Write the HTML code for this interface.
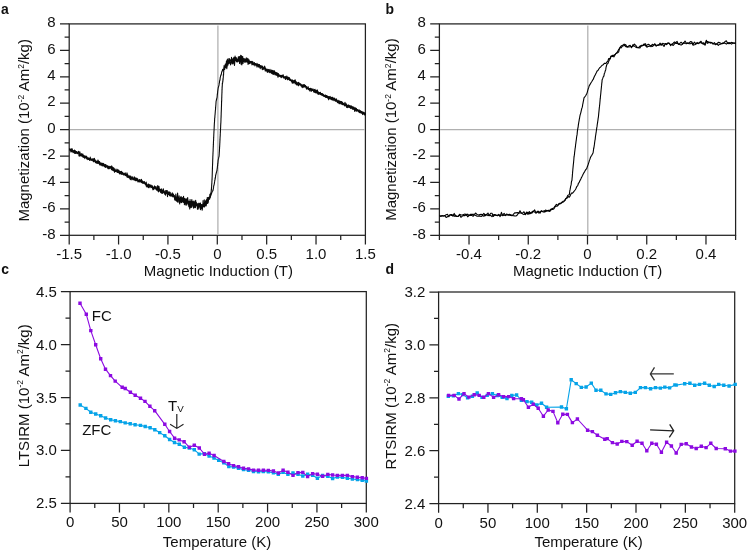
<!DOCTYPE html>
<html><head><meta charset="utf-8"><style>
html,body{margin:0;padding:0;background:#fff;}
svg{display:block;will-change:transform;}
text{font-family:"Liberation Sans", sans-serif;font-size:15px;fill:#111;}
</style></head><body>
<svg width="750" height="553" viewBox="0 0 750 553">
<rect width="750" height="553" fill="#fff"/>
<rect x="69.2" y="23.9" width="296.20" height="211.40" fill="none" stroke="#222" stroke-width="1.25"/>
<path d="M69.20 235.3v9.2M118.57 235.3v9.2M167.93 235.3v9.2M217.30 235.3v9.2M266.67 235.3v9.2M316.03 235.3v9.2M365.40 235.3v9.2M93.88 235.3v4.6M143.25 235.3v4.6M192.62 235.3v4.6M241.98 235.3v4.6M291.35 235.3v4.6M340.72 235.3v4.6M69.2 235.30h-9.2M69.2 208.88h-9.2M69.2 182.45h-9.2M69.2 156.03h-9.2M69.2 129.60h-9.2M69.2 103.18h-9.2M69.2 76.75h-9.2M69.2 50.33h-9.2M69.2 23.90h-9.2M69.2 222.09h-4.6M69.2 195.66h-4.6M69.2 169.24h-4.6M69.2 142.81h-4.6M69.2 116.39h-4.6M69.2 89.96h-4.6M69.2 63.54h-4.6M69.2 37.11h-4.6" stroke="#222" stroke-width="1.25" fill="none"/>
<text x="69.20" y="259.20" text-anchor="middle">-1.5</text>
<text x="118.57" y="259.20" text-anchor="middle">-1.0</text>
<text x="167.93" y="259.20" text-anchor="middle">-0.5</text>
<text x="217.30" y="259.20" text-anchor="middle">0</text>
<text x="266.67" y="259.20" text-anchor="middle">0.5</text>
<text x="316.03" y="259.20" text-anchor="middle">1.0</text>
<text x="365.40" y="259.20" text-anchor="middle">1.5</text>
<text x="55.60" y="238.50" text-anchor="end">-8</text>
<text x="55.60" y="212.07" text-anchor="end">-6</text>
<text x="55.60" y="185.65" text-anchor="end">-4</text>
<text x="55.60" y="159.22" text-anchor="end">-2</text>
<text x="55.60" y="132.80" text-anchor="end">0</text>
<text x="55.60" y="106.38" text-anchor="end">2</text>
<text x="55.60" y="79.95" text-anchor="end">4</text>
<text x="55.60" y="53.53" text-anchor="end">6</text>
<text x="55.60" y="27.10" text-anchor="end">8</text>
<rect x="439.4" y="23.9" width="296.20" height="211.40" fill="none" stroke="#222" stroke-width="1.25"/>
<path d="M469.02 235.3v9.2M528.26 235.3v9.2M587.50 235.3v9.2M646.74 235.3v9.2M705.98 235.3v9.2M439.40 235.3v4.6M498.64 235.3v4.6M557.88 235.3v4.6M617.12 235.3v4.6M676.36 235.3v4.6M735.60 235.3v4.6M439.4 235.30h-9.2M439.4 208.88h-9.2M439.4 182.45h-9.2M439.4 156.03h-9.2M439.4 129.60h-9.2M439.4 103.18h-9.2M439.4 76.75h-9.2M439.4 50.33h-9.2M439.4 23.90h-9.2M439.4 222.09h-4.6M439.4 195.66h-4.6M439.4 169.24h-4.6M439.4 142.81h-4.6M439.4 116.39h-4.6M439.4 89.96h-4.6M439.4 63.54h-4.6M439.4 37.11h-4.6" stroke="#222" stroke-width="1.25" fill="none"/>
<text x="469.02" y="259.20" text-anchor="middle">-0.4</text>
<text x="528.26" y="259.20" text-anchor="middle">-0.2</text>
<text x="587.50" y="259.20" text-anchor="middle">0</text>
<text x="646.74" y="259.20" text-anchor="middle">0.2</text>
<text x="705.98" y="259.20" text-anchor="middle">0.4</text>
<text x="425.80" y="238.50" text-anchor="end">-8</text>
<text x="425.80" y="212.07" text-anchor="end">-6</text>
<text x="425.80" y="185.65" text-anchor="end">-4</text>
<text x="425.80" y="159.22" text-anchor="end">-2</text>
<text x="425.80" y="132.80" text-anchor="end">0</text>
<text x="425.80" y="106.38" text-anchor="end">2</text>
<text x="425.80" y="79.95" text-anchor="end">4</text>
<text x="425.80" y="53.53" text-anchor="end">6</text>
<text x="425.80" y="27.10" text-anchor="end">8</text>
<rect x="70.1" y="291.6" width="296.20" height="211.80" fill="none" stroke="#222" stroke-width="1.25"/>
<path d="M70.10 503.4v9.2M119.47 503.4v9.2M168.83 503.4v9.2M218.20 503.4v9.2M267.57 503.4v9.2M316.93 503.4v9.2M366.30 503.4v9.2M94.78 503.4v4.6M144.15 503.4v4.6M193.52 503.4v4.6M242.88 503.4v4.6M292.25 503.4v4.6M341.62 503.4v4.6M70.1 503.40h-9.2M70.1 450.45h-9.2M70.1 397.50h-9.2M70.1 344.55h-9.2M70.1 291.60h-9.2M70.1 476.92h-4.6M70.1 423.98h-4.6M70.1 371.02h-4.6M70.1 318.08h-4.6" stroke="#222" stroke-width="1.25" fill="none"/>
<text x="70.10" y="527.30" text-anchor="middle">0</text>
<text x="119.47" y="527.30" text-anchor="middle">50</text>
<text x="168.83" y="527.30" text-anchor="middle">100</text>
<text x="218.20" y="527.30" text-anchor="middle">150</text>
<text x="267.57" y="527.30" text-anchor="middle">200</text>
<text x="316.93" y="527.30" text-anchor="middle">250</text>
<text x="366.30" y="527.30" text-anchor="middle">300</text>
<text x="56.80" y="508.40" text-anchor="end">2.5</text>
<text x="56.80" y="455.45" text-anchor="end">3.0</text>
<text x="56.80" y="402.50" text-anchor="end">3.5</text>
<text x="56.80" y="349.55" text-anchor="end">4.0</text>
<text x="56.80" y="296.60" text-anchor="end">4.5</text>
<rect x="438.6" y="292.0" width="296.10" height="211.60" fill="none" stroke="#222" stroke-width="1.25"/>
<path d="M438.60 503.6v9.2M487.95 503.6v9.2M537.30 503.6v9.2M586.65 503.6v9.2M636.00 503.6v9.2M685.35 503.6v9.2M734.70 503.6v9.2M463.28 503.6v4.6M512.62 503.6v4.6M561.98 503.6v4.6M611.33 503.6v4.6M660.68 503.6v4.6M710.03 503.6v4.6M438.6 503.60h-9.2M438.6 450.70h-9.2M438.6 397.80h-9.2M438.6 344.90h-9.2M438.6 292.00h-9.2M438.6 477.15h-4.6M438.6 424.25h-4.6M438.6 371.35h-4.6M438.6 318.45h-4.6" stroke="#222" stroke-width="1.25" fill="none"/>
<text x="438.60" y="527.50" text-anchor="middle">0</text>
<text x="487.95" y="527.50" text-anchor="middle">50</text>
<text x="537.30" y="527.50" text-anchor="middle">100</text>
<text x="586.65" y="527.50" text-anchor="middle">150</text>
<text x="636.00" y="527.50" text-anchor="middle">200</text>
<text x="685.35" y="527.50" text-anchor="middle">250</text>
<text x="734.70" y="527.50" text-anchor="middle">300</text>
<text x="425.30" y="508.60" text-anchor="end">2.4</text>
<text x="425.30" y="455.70" text-anchor="end">2.6</text>
<text x="425.30" y="402.80" text-anchor="end">2.8</text>
<text x="425.30" y="349.90" text-anchor="end">3.0</text>
<text x="425.30" y="297.00" text-anchor="end">3.2</text>
<path d="M69.9 129.60H364.7M217.90 25.5V234.60000000000002" stroke="#b0b0b0" stroke-width="1.25"/>
<path d="M440.09999999999997 129.60H734.9M587.80 25.5V234.60000000000002" stroke="#b0b0b0" stroke-width="1.25"/>
<text x="218.3" y="275.9" text-anchor="middle">Magnetic Induction (T)</text>
<text x="587.6" y="275.9" text-anchor="middle">Magnetic Induction (T)</text>
<text x="217.0" y="546.8" text-anchor="middle">Temperature (K)</text>
<text x="588.6" y="546.8" text-anchor="middle">Temperature (K)</text>
<text transform="translate(29.0,130.3) rotate(-90)" text-anchor="middle">Magnetization (10<tspan font-size="8.6" dy="-5.5">-2</tspan><tspan dy="5.5"> Am</tspan><tspan font-size="8.6" dy="-5.5">2</tspan><tspan dy="5.5">/kg)</tspan></text>
<text transform="translate(396.0,129.6) rotate(-90)" text-anchor="middle">Magnetization (10<tspan font-size="8.6" dy="-5.5">-2</tspan><tspan dy="5.5"> Am</tspan><tspan font-size="8.6" dy="-5.5">2</tspan><tspan dy="5.5">/kg)</tspan></text>
<text transform="translate(28.6,395.8) rotate(-90)" text-anchor="middle">LTSIRM (10<tspan font-size="8.6" dy="-5.5">-2</tspan><tspan dy="5.5"> Am</tspan><tspan font-size="8.6" dy="-5.5">2</tspan><tspan dy="5.5">/kg)</tspan></text>
<text transform="translate(395.9,396.2) rotate(-90)" text-anchor="middle">RTSIRM (10<tspan font-size="8.6" dy="-5.5">-2</tspan><tspan dy="5.5"> Am</tspan><tspan font-size="8.6" dy="-5.5">2</tspan><tspan dy="5.5">/kg)</tspan></text>
<text transform="translate(1.0,14) scale(0.93,1)" font-weight="bold" font-size="17.5">a</text>
<text transform="translate(385.4,13.7) scale(0.93,1)" font-weight="bold" font-size="17.5">b</text>
<text transform="translate(1.2,274.2) scale(0.93,1)" font-weight="bold" font-size="17.5">c</text>
<text transform="translate(385.4,274) scale(0.93,1)" font-weight="bold" font-size="17.5">d</text>
<defs>
<clipPath id="clipa"><rect x="69.2" y="23.9" width="297.2" height="211.4"/></clipPath>
<clipPath id="clipb"><rect x="439.4" y="23.9" width="297.20000000000005" height="211.4"/></clipPath>
</defs>
<path clip-path="url(#clipa)" d="M69.20 149.88 L69.50 149.25 L69.79 149.38 L70.09 150.23 L70.38 150.32 L70.68 150.42 L70.98 150.95 L71.27 150.83 L71.57 148.75 L71.87 149.97 L72.16 150.55 L72.46 150.23 L72.75 151.35 L73.05 152.61 L73.35 152.35 L73.64 150.68 L73.94 151.36 L74.24 151.90 L74.53 150.90 L74.83 152.95 L75.12 152.14 L75.42 150.78 L75.72 153.46 L76.01 151.92 L76.31 151.64 L76.61 152.55 L76.90 153.35 L77.20 153.71 L77.49 153.50 L77.79 152.15 L78.09 152.97 L78.38 152.45 L78.68 153.14 L78.97 152.07 L79.27 154.08 L79.57 154.70 L79.86 151.82 L80.16 153.62 L80.46 155.19 L80.75 154.73 L81.05 155.15 L81.34 155.63 L81.64 155.73 L81.94 156.32 L82.23 155.88 L82.53 154.73 L82.83 153.92 L83.12 156.59 L83.42 157.12 L83.71 155.75 L84.01 156.65 L84.31 157.25 L84.60 155.91 L84.90 156.57 L85.19 157.43 L85.49 156.47 L85.79 156.72 L86.08 156.70 L86.38 156.34 L86.68 156.38 L86.97 158.11 L87.27 158.55 L87.56 158.05 L87.86 158.56 L88.16 158.37 L88.45 158.29 L88.75 158.99 L89.05 159.09 L89.34 158.48 L89.64 159.74 L89.93 159.31 L90.23 156.95 L90.53 159.44 L90.82 159.59 L91.12 160.02 L91.42 159.10 L91.71 160.27 L92.01 159.88 L92.30 159.98 L92.60 159.40 L92.90 159.05 L93.19 161.09 L93.49 161.80 L93.78 160.07 L94.08 161.06 L94.38 158.35 L94.67 159.72 L94.97 159.87 L95.27 162.42 L95.56 161.60 L95.86 161.76 L96.15 163.11 L96.45 161.68 L96.75 161.31 L97.04 162.26 L97.34 163.21 L97.64 163.23 L97.93 161.20 L98.23 161.86 L98.52 161.39 L98.82 163.65 L99.12 162.39 L99.41 162.29 L99.71 164.93 L100.00 164.89 L100.30 163.53 L100.60 164.84 L100.89 163.15 L101.19 164.24 L101.49 163.24 L101.78 165.73 L102.08 164.47 L102.37 165.55 L102.67 164.85 L102.97 164.75 L103.26 164.47 L103.56 165.48 L103.86 164.38 L104.15 165.83 L104.45 166.43 L104.74 166.30 L105.04 167.12 L105.34 166.51 L105.63 164.66 L105.93 166.55 L106.22 165.63 L106.52 165.79 L106.82 166.16 L107.11 166.38 L107.41 167.46 L107.71 165.54 L108.00 167.73 L108.30 166.19 L108.59 167.74 L108.89 167.90 L109.19 166.28 L109.48 166.74 L109.78 167.08 L110.08 166.94 L110.37 167.53 L110.67 168.01 L110.96 167.91 L111.26 166.02 L111.56 167.82 L111.85 167.23 L112.15 167.87 L112.45 169.24 L112.74 169.12 L113.04 169.73 L113.33 167.44 L113.63 170.73 L113.93 169.20 L114.22 168.38 L114.52 172.29 L114.81 170.72 L115.11 170.31 L115.41 171.38 L115.70 170.46 L116.00 171.43 L116.30 170.60 L116.59 170.45 L116.89 171.10 L117.18 170.27 L117.48 172.48 L117.78 169.27 L118.07 172.20 L118.37 172.42 L118.67 172.56 L118.96 172.88 L119.26 171.46 L119.55 173.99 L119.85 171.69 L120.15 172.61 L120.44 171.64 L120.74 173.82 L121.03 171.63 L121.33 174.04 L121.63 174.18 L121.92 173.65 L122.22 172.60 L122.52 173.87 L122.81 173.35 L123.11 174.00 L123.40 174.05 L123.70 174.67 L124.00 173.35 L124.29 174.15 L124.59 174.43 L124.89 174.59 L125.18 173.42 L125.48 175.70 L125.77 174.75 L126.07 174.23 L126.37 175.07 L126.66 175.73 L126.96 172.73 L127.26 176.60 L127.55 174.08 L127.85 175.90 L128.14 175.83 L128.44 176.65 L128.74 176.69 L129.03 177.36 L129.33 175.72 L129.62 177.45 L129.92 177.83 L130.22 177.87 L130.51 179.44 L130.81 177.19 L131.11 179.84 L131.40 178.35 L131.70 177.78 L131.99 177.91 L132.29 178.93 L132.59 178.14 L132.88 178.81 L133.18 178.49 L133.48 179.13 L133.77 177.93 L134.07 177.30 L134.36 176.88 L134.66 179.29 L134.96 178.94 L135.25 177.80 L135.55 179.91 L135.84 178.86 L136.14 178.08 L136.44 180.79 L136.73 179.77 L137.03 178.40 L137.33 178.96 L137.62 178.73 L137.92 180.42 L138.21 181.06 L138.51 181.80 L138.81 180.23 L139.10 179.72 L139.40 180.87 L139.70 179.60 L139.99 181.06 L140.29 180.93 L140.58 180.66 L140.88 181.94 L141.18 181.11 L141.47 179.32 L141.77 181.93 L142.07 182.07 L142.36 180.79 L142.66 181.93 L142.95 183.03 L143.25 181.79 L143.55 182.68 L143.84 183.26 L144.14 181.74 L144.43 182.43 L144.73 183.05 L145.03 183.37 L145.32 183.11 L145.62 183.63 L145.92 184.30 L146.21 182.10 L146.51 184.65 L146.80 186.86 L147.10 185.97 L147.40 185.84 L147.69 184.90 L147.99 184.14 L148.29 184.42 L148.58 187.64 L148.88 185.60 L149.17 185.84 L149.47 186.04 L149.77 186.67 L150.06 187.73 L150.36 186.29 L150.66 185.95 L150.95 185.92 L151.25 186.31 L151.54 187.52 L151.84 187.03 L152.14 187.87 L152.43 187.43 L152.73 188.59 L153.02 189.82 L153.32 188.34 L153.62 187.47 L153.91 189.32 L154.21 186.43 L154.51 185.91 L154.80 187.47 L155.10 187.75 L155.39 187.01 L155.69 186.75 L155.99 188.80 L156.28 188.40 L156.58 188.84 L156.88 190.50 L157.17 188.87 L157.47 188.27 L157.76 188.68 L158.06 189.87 L158.36 191.93 L158.65 189.56 L158.95 187.92 L159.24 190.31 L159.54 190.72 L159.84 190.74 L160.13 191.35 L160.43 189.23 L160.73 189.21 L161.02 191.20 L161.32 191.29 L161.61 191.19 L161.91 190.92 L162.21 190.95 L162.50 190.58 L162.80 192.29 L163.10 192.19 L163.39 191.16 L163.69 191.81 L163.98 192.75 L164.28 191.72 L164.58 192.64 L164.87 194.29 L165.17 190.52 L165.47 192.80 L165.76 193.60 L166.06 192.72 L166.35 192.62 L166.65 191.55 L166.95 193.67 L167.24 194.22 L167.54 196.72 L167.83 192.96 L168.13 194.76 L168.43 192.47 L168.72 194.51 L169.02 193.84 L169.32 194.78 L169.61 194.21 L169.91 195.83 L170.20 194.34 L170.50 194.09 L170.80 196.21 L171.09 195.06 L171.39 195.90 L171.69 195.50 L171.98 195.99 L172.28 192.81 L172.57 195.99 L172.87 196.91 L173.17 195.02 L173.46 193.96 L173.76 196.10 L174.05 196.21 L174.35 195.73 L174.65 199.10 L174.94 200.10 L175.24 196.87 L175.54 198.48 L175.83 193.98 L176.13 198.39 L176.42 201.32 L176.72 198.05 L177.02 198.52 L177.31 196.53 L177.61 193.15 L177.91 198.05 L178.20 202.24 L178.50 198.52 L178.79 197.54 L179.09 199.91 L179.39 199.09 L179.68 200.60 L179.98 199.04 L180.27 199.27 L180.57 201.96 L180.87 197.89 L181.16 200.60 L181.46 202.69 L181.76 201.60 L182.05 199.81 L182.35 201.74 L182.64 199.47 L182.94 200.45 L183.24 199.86 L183.53 196.37 L183.83 202.14 L184.13 200.47 L184.42 204.61 L184.72 202.86 L185.01 201.95 L185.31 200.72 L185.61 202.15 L185.90 204.83 L186.20 201.60 L186.50 203.95 L186.79 203.68 L187.09 202.19 L187.38 199.57 L187.68 199.83 L187.98 201.85 L188.27 204.94 L188.57 202.21 L188.86 206.81 L189.16 204.13 L189.46 204.28 L189.75 208.87 L190.05 199.56 L190.35 204.87 L190.64 205.67 L190.94 201.73 L191.23 206.38 L191.53 201.52 L191.83 199.57 L192.12 202.87 L192.42 202.48 L192.72 202.98 L193.01 202.47 L193.31 205.67 L193.60 208.15 L193.90 203.32 L194.20 207.77 L194.49 203.53 L194.79 200.97 L195.09 204.11 L195.38 204.43 L195.68 200.25 L195.97 205.04 L196.27 205.73 L196.57 204.69 L196.86 204.51 L197.16 203.81 L197.45 209.17 L197.75 205.23 L198.05 203.57 L198.34 207.32 L198.64 206.57 L198.94 208.32 L199.23 204.21 L199.53 205.77 L199.82 204.36 L200.12 206.84 L200.42 203.13 L200.71 206.17 L201.01 207.17 L201.31 204.85 L201.60 208.55 L201.90 206.58 L202.19 210.28 L202.49 207.88 L202.79 206.89 L203.08 200.60 L203.38 206.54 L203.67 204.07 L203.97 205.99 L204.27 206.95 L204.56 207.00 L204.86 204.85 L205.16 205.07 L205.45 200.92 L205.75 205.46 L206.04 205.06 L206.34 204.36 L206.64 201.70 L206.93 203.43 L207.23 197.56 L207.53 202.32 L207.82 199.88 L208.12 200.83 L208.41 199.68 L208.71 198.82 L209.01 198.64 L209.30 197.88 L209.60 199.18 L209.89 196.61 L210.19 197.62 L210.49 195.70 L210.78 195.69 L211.08 192.83 L211.38 194.23 L211.67 193.13 L211.97 192.39 L212.26 191.46 L212.56 190.86 L212.86 190.84 L213.15 189.76 L213.30 188.78 L213.45 188.04 L213.60 187.16 L213.75 185.67 L213.89 185.65 L214.04 184.83 L214.19 184.36 L214.34 183.56 L214.49 182.54 L214.63 181.64 L214.78 180.37 L214.93 180.17 L215.03 179.54 L215.13 178.93 L215.23 177.64 L215.33 177.29 L215.42 178.13 L215.52 176.64 L215.62 175.94 L215.72 174.79 L215.82 175.01 L215.97 174.13 L216.12 173.58 L216.26 172.99 L216.41 172.46 L216.56 172.10 L216.71 171.27 L216.86 170.77 L217.00 170.73 L217.10 168.84 L217.20 169.04 L217.30 168.09 L217.37 167.02 L217.45 166.38 L217.52 165.67 L217.60 165.95 L217.67 164.55 L217.74 163.92 L217.82 163.52 L217.89 163.24 L217.97 162.27 L218.04 161.49 L218.11 160.76 L218.19 159.62 L218.34 159.27 L218.48 158.79 L218.63 158.20 L218.78 157.26 L218.93 156.71 L219.08 156.33 L219.12 155.42 L219.16 154.86 L219.20 154.41 L219.25 154.00 L219.29 152.72 L219.33 151.85 L219.37 152.15 L219.41 151.10 L219.44 150.62 L219.47 149.29 L219.51 149.24 L219.54 148.54 L219.57 147.70 L219.60 146.84 L219.64 146.37 L219.67 146.78 L219.70 145.50 L219.74 144.85 L219.77 144.36 L219.80 143.55 L219.83 142.80 L219.87 142.74 L219.90 141.48 L219.93 140.63 L219.97 140.51 L220.00 139.90 L220.03 138.37 L220.06 138.47 L220.10 137.30 L220.13 136.63 L220.16 136.63 L220.20 135.89 L220.23 135.68 L220.26 133.60 L220.29 133.39 L220.33 132.87 L220.36 131.88 L220.39 132.39 L220.43 131.09 L220.46 130.46 L220.49 130.20 L220.53 128.12 L220.56 128.16 L220.59 127.68 L220.62 128.35 L220.66 126.08 L220.69 124.75 L220.72 125.32 L220.76 123.59 L220.79 124.09 L220.82 122.96 L220.85 123.23 L220.88 122.59 L220.90 121.55 L220.93 121.67 L220.95 120.52 L220.98 119.70 L221.00 118.32 L221.03 117.54 L221.05 118.07 L221.08 117.80 L221.10 115.50 L221.13 116.42 L221.15 114.82 L221.17 115.08 L221.19 114.31 L221.21 112.83 L221.24 112.15 L221.26 111.88 L221.28 111.81 L221.30 110.61 L221.32 110.95 L221.34 109.86 L221.36 110.11 L221.38 108.89 L221.40 107.79 L221.43 106.69 L221.45 106.96 L221.47 106.50 L221.49 106.20 L221.51 104.62 L221.53 103.93 L221.55 103.20 L221.57 103.01 L221.59 100.60 L221.62 101.89 L221.64 101.16 L221.66 101.24 L221.68 100.85 L221.70 100.81 L221.72 99.05 L221.74 97.22 L221.76 98.07 L221.79 97.56 L221.81 95.16 L221.83 95.16 L221.85 95.34 L221.87 94.17 L221.89 93.67 L221.91 93.70 L221.93 92.16 L221.95 92.89 L221.98 92.07 L222.00 90.31 L222.02 88.93 L222.04 89.84 L222.08 89.95 L222.11 87.08 L222.15 88.21 L222.19 85.96 L222.22 86.94 L222.26 85.40 L222.30 85.73 L222.34 83.04 L222.41 84.22 L222.48 83.93 L222.56 82.50 L222.63 82.39 L222.71 81.28 L222.78 82.33 L222.85 80.99 L222.93 79.87 L223.00 78.43 L223.08 79.91 L223.15 78.51 L223.22 77.60 L223.30 77.53 L223.37 74.71 L223.45 74.17 L223.52 75.47 L223.58 74.55 L223.64 72.50 L223.70 71.50 L223.76 71.98 L223.82 68.74 L223.96 68.52 L224.11 68.23 L224.41 67.52 L224.70 69.35 L225.00 67.67 L225.30 63.93 L225.59 65.04 L225.89 66.34 L226.19 63.82 L226.48 60.83 L226.78 66.90 L227.07 61.90 L227.37 62.98 L227.67 63.08 L227.96 65.24 L228.26 61.13 L228.56 63.78 L228.85 60.69 L229.15 60.81 L229.44 58.82 L229.74 63.24 L230.04 63.67 L230.33 62.37 L230.63 64.94 L230.93 60.98 L231.22 62.40 L231.52 60.57 L231.81 61.56 L232.11 61.18 L232.41 63.42 L232.70 59.17 L233.00 64.03 L233.29 60.90 L233.59 62.95 L233.89 57.36 L234.18 60.33 L234.48 65.40 L234.78 62.02 L235.07 56.05 L235.37 59.77 L235.66 58.91 L235.96 57.58 L236.26 58.04 L236.55 60.40 L236.85 59.66 L237.15 59.50 L237.44 60.92 L237.74 61.50 L238.03 60.09 L238.33 56.90 L238.63 57.39 L238.92 61.20 L239.22 58.02 L239.52 63.55 L239.81 60.00 L240.11 61.25 L240.40 59.27 L240.70 61.36 L241.00 64.29 L241.29 61.48 L241.59 58.71 L241.88 64.84 L242.18 58.31 L242.48 56.52 L242.77 56.70 L243.07 63.53 L243.37 59.62 L243.66 61.40 L243.96 59.36 L244.25 61.09 L244.55 60.17 L244.85 60.39 L245.14 60.20 L245.44 59.02 L245.74 60.65 L246.03 60.84 L246.33 57.74 L246.62 61.61 L246.92 60.58 L247.22 59.13 L247.51 61.49 L247.81 58.21 L248.10 64.43 L248.40 61.04 L248.70 61.21 L248.99 59.89 L249.29 63.63 L249.59 62.71 L249.88 61.41 L250.18 63.12 L250.47 62.69 L250.77 61.56 L251.07 61.67 L251.36 62.65 L251.66 62.41 L251.96 61.22 L252.25 63.53 L252.55 64.17 L252.84 61.83 L253.14 63.82 L253.44 62.96 L253.73 64.20 L254.03 64.19 L254.32 63.83 L254.62 63.07 L254.92 63.99 L255.21 63.80 L255.51 63.58 L255.81 64.26 L256.10 64.03 L256.40 64.63 L256.69 65.42 L256.99 63.39 L257.29 64.72 L257.58 64.23 L257.88 65.44 L258.18 66.69 L258.47 66.76 L258.77 64.24 L259.06 66.56 L259.36 66.47 L259.66 65.45 L259.95 66.29 L260.25 67.06 L260.55 65.70 L260.84 66.99 L261.14 67.40 L261.43 66.76 L261.73 67.52 L262.03 67.72 L262.32 69.61 L262.62 69.21 L262.91 68.44 L263.21 67.70 L263.51 67.85 L263.80 69.17 L264.10 66.97 L264.40 68.40 L264.69 67.72 L264.99 69.12 L265.28 71.08 L265.58 68.76 L265.88 69.31 L266.17 68.99 L266.47 70.73 L266.77 71.17 L267.06 69.72 L267.36 70.60 L267.65 70.23 L267.95 71.27 L268.25 71.02 L268.54 69.43 L268.84 71.18 L269.13 69.96 L269.43 70.25 L269.73 71.90 L270.02 69.42 L270.32 72.16 L270.62 71.19 L270.91 71.00 L271.21 72.20 L271.50 72.37 L271.80 70.25 L272.10 70.93 L272.39 71.89 L272.69 72.47 L272.99 70.45 L273.28 72.98 L273.58 71.06 L273.87 72.45 L274.17 71.69 L274.47 71.19 L274.76 73.43 L275.06 72.54 L275.36 74.72 L275.65 73.23 L275.95 72.67 L276.24 73.72 L276.54 75.25 L276.84 72.97 L277.13 75.11 L277.43 73.74 L277.72 73.38 L278.02 73.84 L278.32 74.73 L278.61 75.28 L278.91 76.23 L279.21 75.88 L279.50 75.67 L279.80 75.45 L280.09 75.47 L280.39 76.54 L280.69 75.37 L280.98 75.44 L281.28 76.00 L281.58 77.06 L281.87 75.88 L282.17 76.37 L282.46 75.85 L282.76 76.55 L283.06 75.15 L283.35 77.58 L283.65 77.98 L283.94 77.69 L284.24 76.78 L284.54 77.86 L284.83 77.32 L285.13 77.04 L285.43 79.49 L285.72 79.21 L286.02 76.26 L286.31 77.32 L286.61 78.39 L286.91 78.12 L287.20 79.08 L287.50 79.78 L287.80 78.13 L288.09 79.13 L288.39 78.12 L288.68 77.31 L288.98 79.76 L289.28 77.58 L289.57 79.12 L289.87 78.95 L290.17 80.49 L290.46 80.60 L290.76 80.27 L291.05 80.86 L291.35 80.37 L291.65 80.05 L291.94 81.48 L292.24 83.24 L292.53 80.02 L292.83 82.35 L293.13 83.06 L293.42 80.96 L293.72 82.22 L294.02 81.20 L294.31 81.79 L294.61 82.56 L294.90 81.21 L295.20 84.01 L295.50 83.58 L295.79 83.40 L296.09 82.27 L296.39 84.03 L296.68 84.88 L296.98 85.09 L297.27 84.42 L297.57 83.23 L297.87 83.86 L298.16 84.45 L298.46 85.81 L298.75 84.09 L299.05 84.72 L299.35 84.23 L299.64 83.75 L299.94 84.60 L300.24 83.99 L300.53 84.91 L300.83 84.08 L301.12 86.08 L301.42 85.02 L301.72 85.18 L302.01 86.99 L302.31 85.09 L302.61 86.00 L302.90 85.16 L303.20 86.54 L303.49 85.02 L303.79 85.03 L304.09 86.60 L304.38 85.49 L304.68 86.24 L304.98 85.96 L305.27 85.45 L305.57 87.07 L305.86 86.73 L306.16 86.94 L306.46 89.20 L306.75 88.08 L307.05 88.56 L307.34 87.97 L307.64 88.29 L307.94 89.16 L308.23 86.73 L308.53 89.69 L308.83 89.41 L309.12 89.42 L309.42 88.66 L309.71 88.83 L310.01 88.98 L310.31 89.09 L310.60 89.74 L310.90 91.13 L311.20 89.71 L311.49 89.16 L311.79 90.13 L312.08 89.46 L312.38 89.68 L312.68 89.27 L312.97 90.62 L313.27 90.50 L313.56 91.03 L313.86 90.93 L314.16 89.64 L314.45 91.81 L314.75 90.47 L315.05 89.39 L315.34 91.92 L315.64 90.59 L315.93 92.76 L316.23 90.82 L316.53 92.60 L316.82 92.65 L317.12 90.04 L317.42 90.57 L317.71 92.81 L318.01 92.28 L318.30 93.87 L318.60 92.31 L318.90 92.96 L319.19 93.46 L319.49 93.29 L319.79 93.25 L320.08 93.30 L320.38 92.22 L320.67 93.91 L320.97 93.55 L321.27 93.52 L321.56 93.50 L321.86 93.65 L322.15 94.05 L322.45 94.20 L322.75 95.75 L323.04 95.62 L323.34 94.76 L323.64 96.16 L323.93 95.11 L324.23 95.73 L324.52 96.38 L324.82 96.26 L325.12 96.45 L325.41 95.01 L325.71 95.46 L326.01 97.56 L326.30 96.47 L326.60 95.59 L326.89 97.00 L327.19 97.63 L327.49 97.41 L327.78 96.94 L328.08 96.56 L328.38 96.72 L328.67 99.78 L328.97 98.77 L329.26 97.75 L329.56 97.00 L329.86 98.28 L330.15 98.44 L330.45 98.52 L330.74 98.05 L331.04 99.27 L331.34 99.69 L331.63 97.40 L331.93 97.79 L332.23 97.42 L332.52 98.03 L332.82 97.84 L333.11 99.17 L333.41 99.48 L333.71 98.49 L334.00 99.55 L334.30 99.18 L334.60 98.02 L334.89 99.34 L335.19 100.24 L335.48 99.38 L335.78 100.91 L336.08 100.83 L336.37 98.83 L336.67 100.60 L336.96 101.52 L337.26 102.01 L337.56 101.00 L337.85 101.05 L338.15 100.26 L338.45 101.73 L338.74 102.67 L339.04 101.98 L339.33 101.57 L339.63 101.56 L339.93 101.28 L340.22 101.99 L340.52 101.44 L340.82 103.32 L341.11 104.18 L341.41 101.58 L341.70 103.37 L342.00 103.61 L342.30 102.09 L342.59 103.04 L342.89 103.77 L343.18 103.59 L343.48 103.27 L343.78 104.52 L344.07 103.98 L344.37 104.27 L344.67 103.73 L344.96 102.37 L345.26 104.44 L345.55 105.82 L345.85 105.08 L346.15 105.84 L346.44 104.43 L346.74 107.54 L347.04 105.20 L347.33 106.24 L347.63 106.82 L347.92 105.82 L348.22 105.04 L348.52 105.64 L348.81 106.19 L349.11 107.62 L349.41 105.52 L349.70 105.82 L350.00 106.87 L350.29 106.28 L350.59 107.27 L350.89 106.68 L351.18 105.90 L351.48 107.24 L351.77 106.61 L352.07 106.74 L352.37 108.40 L352.66 109.29 L352.96 107.77 L353.26 108.51 L353.55 109.25 L353.85 107.35 L354.14 108.97 L354.44 108.96 L354.74 108.31 L355.03 110.87 L355.33 108.58 L355.63 107.83 L355.92 109.17 L356.22 110.22 L356.51 108.88 L356.81 111.33 L357.11 109.76 L357.40 110.38 L357.70 110.43 L358.00 110.13 L358.29 110.22 L358.59 110.27 L358.88 110.80 L359.18 112.12 L359.48 111.59 L359.77 111.92 L360.07 111.62 L360.36 110.77 L360.66 112.90 L360.96 112.33 L361.25 111.68 L361.55 112.61 L361.85 111.69 L362.14 113.38 L362.44 113.78 L362.73 114.58 L363.03 112.51 L363.33 112.79 L363.62 112.13 L363.92 112.39 L364.22 113.69 L364.51 112.89 L364.81 113.15 L365.10 113.41 L365.40 115.18" fill="none" stroke="#0a0a0a" stroke-width="1.1" stroke-linejoin="round"/>
<path clip-path="url(#clipa)" d="M365.40 114.62 L365.10 113.23 L364.81 113.65 L364.51 114.98 L364.22 114.40 L363.92 113.93 L363.62 113.80 L363.33 113.17 L363.03 113.30 L362.73 113.73 L362.44 113.44 L362.14 111.73 L361.85 111.37 L361.55 112.99 L361.25 112.69 L360.96 111.47 L360.66 112.56 L360.36 111.04 L360.07 110.91 L359.77 110.99 L359.48 112.76 L359.18 109.84 L358.88 111.19 L358.59 111.51 L358.29 111.64 L358.00 110.93 L357.70 110.10 L357.40 109.46 L357.11 109.60 L356.81 110.52 L356.51 109.87 L356.22 108.46 L355.92 109.92 L355.63 108.63 L355.33 109.73 L355.03 110.55 L354.74 111.34 L354.44 108.83 L354.14 108.16 L353.85 107.14 L353.55 109.06 L353.26 108.31 L352.96 108.03 L352.66 106.72 L352.37 107.44 L352.07 108.63 L351.77 108.34 L351.48 107.56 L351.18 107.34 L350.89 105.84 L350.59 108.38 L350.29 107.02 L350.00 106.84 L349.70 107.28 L349.41 107.07 L349.11 107.04 L348.81 105.11 L348.52 106.95 L348.22 105.93 L347.92 105.67 L347.63 107.59 L347.33 106.67 L347.04 106.97 L346.74 104.78 L346.44 106.38 L346.15 104.42 L345.85 103.23 L345.55 105.37 L345.26 105.18 L344.96 104.94 L344.67 105.92 L344.37 104.55 L344.07 105.12 L343.78 104.47 L343.48 104.00 L343.18 103.93 L342.89 104.73 L342.59 103.83 L342.30 104.54 L342.00 103.86 L341.70 103.41 L341.41 102.78 L341.11 101.53 L340.82 102.29 L340.52 103.21 L340.22 103.03 L339.93 102.01 L339.63 103.72 L339.33 100.81 L339.04 103.79 L338.74 101.01 L338.45 102.59 L338.15 101.24 L337.85 102.51 L337.56 102.61 L337.26 101.49 L336.96 100.44 L336.67 99.63 L336.37 99.78 L336.08 100.75 L335.78 101.26 L335.48 100.26 L335.19 99.78 L334.89 100.71 L334.60 99.95 L334.30 99.86 L334.00 99.48 L333.71 98.06 L333.41 98.54 L333.11 100.60 L332.82 98.97 L332.52 99.71 L332.23 97.22 L331.93 98.33 L331.63 99.44 L331.34 97.98 L331.04 98.58 L330.74 98.96 L330.45 97.85 L330.15 96.43 L329.86 97.94 L329.56 97.77 L329.26 96.71 L328.97 98.74 L328.67 97.28 L328.38 96.75 L328.08 98.64 L327.78 97.12 L327.49 95.94 L327.19 97.50 L326.89 97.43 L326.60 96.88 L326.30 95.74 L326.01 96.42 L325.71 95.31 L325.41 97.23 L325.12 96.31 L324.82 95.54 L324.52 95.47 L324.23 96.46 L323.93 95.97 L323.64 94.90 L323.34 95.11 L323.04 95.26 L322.75 93.88 L322.45 93.81 L322.15 94.25 L321.86 95.40 L321.56 94.53 L321.27 93.89 L320.97 93.55 L320.67 93.58 L320.38 94.61 L320.08 93.85 L319.79 94.33 L319.49 92.47 L319.19 92.54 L318.90 92.44 L318.60 92.38 L318.30 94.47 L318.01 94.16 L317.71 91.07 L317.42 93.13 L317.12 90.14 L316.82 91.90 L316.53 91.72 L316.23 91.15 L315.93 93.05 L315.64 90.91 L315.34 92.35 L315.05 90.35 L314.75 91.35 L314.45 92.26 L314.16 92.16 L313.86 92.22 L313.56 91.03 L313.27 89.84 L312.97 88.87 L312.68 90.21 L312.38 90.51 L312.08 89.69 L311.79 89.39 L311.49 91.11 L311.20 88.60 L310.90 89.31 L310.60 88.43 L310.31 88.27 L310.01 89.47 L309.71 90.87 L309.42 88.67 L309.12 89.46 L308.83 88.65 L308.53 88.75 L308.23 88.28 L307.94 88.24 L307.64 88.29 L307.34 87.73 L307.05 86.81 L306.75 88.37 L306.46 88.37 L306.16 86.42 L305.86 86.77 L305.57 85.94 L305.27 85.47 L304.98 85.43 L304.68 86.80 L304.38 84.46 L304.09 85.76 L303.79 87.53 L303.49 84.88 L303.20 85.13 L302.90 85.26 L302.61 85.84 L302.31 87.69 L302.01 85.17 L301.72 85.64 L301.42 85.25 L301.12 85.06 L300.83 85.02 L300.53 84.21 L300.24 84.73 L299.94 85.03 L299.64 83.03 L299.35 83.83 L299.05 83.58 L298.75 84.33 L298.46 82.32 L298.16 84.60 L297.87 83.88 L297.57 83.56 L297.27 82.68 L296.98 83.19 L296.68 83.53 L296.39 82.17 L296.09 82.95 L295.79 81.21 L295.50 81.68 L295.20 79.74 L294.90 81.70 L294.61 80.18 L294.31 82.17 L294.02 82.73 L293.72 80.78 L293.42 81.32 L293.13 82.71 L292.83 80.44 L292.53 80.27 L292.24 81.33 L291.94 81.37 L291.65 81.69 L291.35 80.17 L291.05 80.45 L290.76 79.89 L290.46 80.28 L290.17 79.07 L289.87 80.22 L289.57 80.19 L289.28 79.25 L288.98 78.68 L288.68 78.98 L288.39 78.56 L288.09 78.35 L287.80 78.04 L287.50 77.10 L287.20 77.74 L286.91 75.99 L286.61 78.46 L286.31 77.57 L286.02 77.92 L285.72 77.79 L285.43 76.69 L285.13 77.50 L284.83 77.05 L284.54 77.48 L284.24 77.80 L283.94 77.01 L283.65 76.85 L283.35 77.52 L283.06 74.87 L282.76 76.96 L282.46 75.98 L282.17 76.51 L281.87 75.78 L281.58 75.34 L281.28 77.78 L280.98 76.96 L280.69 76.56 L280.39 76.73 L280.09 76.11 L279.80 76.40 L279.50 74.90 L279.21 75.88 L278.91 76.00 L278.61 75.51 L278.32 73.48 L278.02 77.30 L277.72 75.58 L277.43 75.92 L277.13 73.81 L276.84 72.50 L276.54 74.80 L276.24 73.80 L275.95 74.77 L275.65 72.81 L275.36 72.17 L275.06 74.85 L274.76 74.02 L274.47 72.34 L274.17 70.69 L273.87 72.95 L273.58 74.42 L273.28 73.03 L272.99 74.01 L272.69 72.98 L272.39 72.08 L272.10 73.82 L271.80 70.08 L271.50 71.75 L271.21 73.24 L270.91 71.25 L270.62 71.23 L270.32 71.25 L270.02 71.63 L269.73 72.71 L269.43 71.66 L269.13 71.57 L268.84 71.99 L268.54 71.87 L268.25 70.44 L267.95 71.03 L267.65 69.72 L267.36 72.33 L267.06 69.01 L266.77 70.35 L266.47 69.96 L266.17 69.88 L265.88 69.92 L265.58 69.24 L265.28 67.72 L264.99 68.36 L264.69 66.06 L264.40 67.45 L264.10 68.74 L263.80 69.09 L263.51 68.34 L263.21 67.90 L262.91 67.58 L262.62 66.01 L262.32 68.48 L262.03 67.59 L261.73 67.50 L261.43 65.78 L261.14 66.87 L260.84 66.14 L260.55 65.79 L260.25 68.69 L259.95 66.59 L259.66 65.69 L259.36 64.51 L259.06 67.31 L258.77 65.07 L258.47 64.95 L258.18 65.38 L257.88 64.74 L257.58 64.47 L257.29 66.46 L256.99 67.10 L256.69 65.11 L256.40 64.54 L256.10 65.13 L255.81 64.20 L255.51 64.29 L255.21 63.79 L254.92 65.90 L254.62 64.47 L254.32 62.46 L254.03 63.88 L253.73 64.98 L253.44 63.31 L253.14 64.26 L252.84 64.18 L252.55 62.49 L252.25 63.51 L251.96 64.95 L251.66 61.81 L251.36 62.76 L251.07 61.89 L250.77 61.44 L250.47 62.08 L250.18 62.75 L249.88 62.09 L249.59 63.36 L249.29 62.19 L248.99 60.85 L248.70 62.49 L248.40 61.10 L248.10 59.27 L247.81 62.64 L247.51 59.32 L247.22 61.46 L246.92 61.44 L246.62 59.57 L246.33 61.85 L246.03 59.20 L245.74 61.88 L245.44 60.00 L245.14 60.32 L244.85 62.45 L244.55 61.05 L244.25 58.54 L243.96 59.70 L243.66 58.46 L243.37 61.04 L243.07 60.76 L242.77 58.52 L242.48 60.40 L242.18 60.29 L241.88 58.65 L241.59 55.78 L241.29 59.18 L241.00 56.31 L240.70 55.23 L240.40 60.07 L240.11 61.33 L239.81 60.05 L239.52 56.62 L239.22 60.81 L238.92 57.07 L238.63 60.88 L238.33 60.70 L238.03 59.69 L237.74 58.91 L237.44 61.86 L237.15 60.62 L236.85 61.90 L236.55 61.60 L236.26 58.06 L235.96 59.71 L235.66 60.66 L235.37 57.44 L235.07 59.10 L234.78 61.06 L234.48 59.59 L234.18 60.34 L233.89 58.56 L233.59 58.37 L233.29 58.77 L233.00 60.97 L232.70 59.64 L232.41 59.16 L232.11 63.79 L231.81 63.23 L231.52 57.37 L231.22 61.14 L230.93 60.97 L230.63 60.86 L230.33 59.72 L230.04 59.92 L229.74 59.87 L229.44 59.88 L229.15 59.07 L228.85 58.60 L228.56 62.95 L228.26 60.82 L227.96 61.73 L227.67 63.64 L227.37 58.93 L227.07 65.53 L226.78 68.79 L226.48 64.10 L226.19 66.64 L225.89 67.13 L225.59 67.55 L225.30 65.80 L225.00 66.42 L224.70 66.79 L224.41 67.41 L224.11 65.52 L223.82 69.29 L223.52 70.24 L223.22 70.72 L222.93 70.50 L222.63 69.40 L222.34 70.51 L222.04 71.44 L221.74 71.85 L221.45 73.53 L221.15 75.08 L220.85 74.88 L220.56 76.26 L220.41 77.04 L220.26 77.32 L220.11 78.60 L219.97 80.12 L219.82 79.89 L219.67 80.90 L219.52 81.10 L219.37 83.14 L219.23 83.17 L219.08 84.39 L218.93 85.35 L218.78 86.08 L218.63 86.36 L218.48 86.86 L218.34 87.36 L218.19 87.99 L218.04 88.98 L217.89 89.86 L217.82 90.56 L217.74 91.12 L217.67 91.38 L217.60 92.78 L217.52 93.34 L217.45 93.38 L217.37 94.42 L217.30 94.94 L217.23 95.66 L217.15 96.56 L217.08 97.32 L217.00 97.65 L216.71 99.00 L216.41 99.93 L216.26 101.01 L216.12 100.98 L216.07 101.84 L216.02 102.45 L215.97 102.87 L215.92 104.27 L215.87 104.69 L215.82 105.30 L215.77 105.87 L215.72 106.53 L215.67 107.17 L215.62 107.62 L215.57 108.52 L215.52 109.75 L215.46 109.97 L215.40 110.25 L215.35 110.97 L215.29 111.56 L215.23 112.51 L215.17 113.09 L215.11 113.91 L215.05 115.00 L214.99 114.91 L214.93 115.86 L214.88 116.58 L214.83 117.74 L214.78 117.62 L214.73 118.26 L214.68 118.11 L214.63 118.99 L214.60 120.60 L214.56 120.28 L214.52 121.78 L214.49 122.23 L214.45 122.62 L214.41 123.14 L214.38 123.23 L214.34 124.31 L214.31 124.70 L214.27 125.61 L214.24 125.87 L214.21 126.85 L214.17 127.61 L214.14 128.27 L214.11 128.87 L214.07 130.33 L214.04 130.44 L214.01 130.83 L213.98 131.30 L213.95 131.29 L213.92 132.87 L213.89 132.51 L213.86 133.56 L213.83 134.53 L213.80 134.38 L213.78 136.08 L213.75 135.68 L213.72 137.02 L213.69 137.68 L213.66 137.90 L213.63 138.59 L213.60 139.75 L213.57 140.72 L213.54 140.44 L213.51 141.54 L213.48 141.54 L213.45 141.90 L213.42 143.72 L213.40 144.18 L213.37 144.91 L213.34 145.13 L213.31 146.92 L213.29 145.66 L213.26 147.28 L213.23 147.42 L213.21 148.22 L213.18 148.59 L213.15 149.45 L213.13 151.27 L213.10 150.89 L213.07 151.73 L213.05 152.32 L213.02 152.09 L212.99 153.94 L212.96 153.28 L212.94 154.81 L212.91 155.38 L212.88 156.08 L212.86 155.66 L212.84 156.47 L212.81 156.94 L212.79 158.96 L212.77 158.95 L212.75 158.51 L212.73 159.98 L212.71 159.83 L212.69 160.88 L212.67 161.91 L212.65 162.05 L212.62 163.66 L212.60 163.55 L212.58 164.74 L212.56 164.36 L212.54 164.86 L212.52 165.71 L212.50 166.48 L212.48 166.41 L212.46 168.72 L212.44 167.41 L212.42 169.24 L212.40 168.89 L212.38 169.51 L212.36 171.28 L212.34 171.12 L212.32 171.61 L212.30 172.76 L212.28 173.73 L212.26 173.63 L212.24 175.09 L212.21 175.15 L212.18 176.48 L212.16 176.86 L212.13 177.51 L212.10 177.72 L212.08 179.83 L212.05 179.38 L212.02 178.75 L212.00 180.56 L211.97 180.18 L211.93 181.13 L211.88 181.66 L211.84 183.86 L211.80 183.31 L211.76 183.71 L211.71 184.61 L211.67 184.79 L211.63 187.40 L211.59 187.34 L211.55 188.01 L211.50 187.28 L211.46 189.55 L211.42 190.04 L211.38 188.68 L211.30 189.94 L211.23 190.76 L211.15 191.90 L211.08 193.68 L210.78 193.18 L210.49 196.75 L210.19 195.46 L209.89 194.38 L209.60 198.31 L209.30 198.88 L209.01 198.52 L208.71 197.36 L208.41 200.48 L208.12 202.90 L207.82 197.49 L207.53 203.40 L207.23 199.74 L206.93 200.36 L206.64 199.65 L206.34 200.11 L206.04 205.99 L205.75 201.67 L205.45 205.28 L205.16 202.43 L204.86 206.05 L204.56 205.74 L204.27 199.92 L203.97 203.18 L203.67 204.34 L203.38 203.82 L203.08 205.87 L202.79 207.25 L202.49 207.11 L202.19 204.55 L201.90 207.16 L201.60 207.17 L201.31 204.56 L201.01 208.04 L200.71 209.34 L200.42 209.63 L200.12 203.35 L199.82 206.80 L199.53 206.69 L199.23 206.32 L198.94 203.06 L198.64 204.12 L198.34 204.59 L198.05 209.09 L197.75 205.20 L197.45 204.97 L197.16 205.32 L196.86 205.28 L196.57 205.57 L196.27 202.24 L195.97 205.57 L195.68 205.21 L195.38 207.66 L195.09 203.80 L194.79 207.38 L194.49 205.84 L194.20 202.55 L193.90 203.64 L193.60 203.19 L193.31 201.09 L193.01 205.13 L192.72 205.29 L192.42 201.59 L192.12 206.49 L191.83 207.13 L191.53 204.40 L191.23 204.83 L190.94 207.64 L190.64 201.55 L190.35 204.44 L190.05 207.10 L189.75 204.16 L189.46 201.21 L189.16 203.31 L188.86 203.53 L188.57 201.38 L188.27 204.09 L187.98 203.62 L187.68 197.46 L187.38 202.49 L187.09 200.40 L186.79 198.67 L186.50 202.67 L186.20 205.11 L185.90 202.28 L185.61 198.80 L185.31 201.97 L185.01 200.20 L184.72 202.68 L184.42 198.19 L184.13 201.04 L183.83 202.18 L183.53 199.68 L183.24 202.54 L182.94 201.78 L182.64 201.04 L182.35 197.66 L182.05 200.04 L181.76 199.05 L181.46 199.70 L181.16 196.56 L180.87 201.71 L180.57 197.08 L180.27 202.15 L179.98 198.64 L179.68 203.89 L179.39 200.48 L179.09 195.83 L178.79 196.46 L178.50 198.58 L178.20 198.20 L177.91 198.62 L177.61 201.85 L177.31 200.42 L177.02 197.39 L176.72 197.64 L176.42 198.23 L176.13 197.14 L175.83 197.51 L175.54 200.14 L175.24 199.09 L174.94 199.17 L174.65 195.74 L174.35 197.79 L174.05 196.29 L173.76 196.68 L173.46 194.92 L173.17 196.41 L172.87 195.61 L172.57 195.89 L172.28 195.38 L171.98 193.55 L171.69 195.65 L171.39 194.54 L171.09 195.37 L170.80 194.93 L170.50 195.47 L170.20 192.26 L169.91 194.24 L169.61 195.34 L169.32 193.65 L169.02 191.67 L168.72 193.70 L168.43 194.14 L168.13 192.02 L167.83 193.23 L167.54 194.13 L167.24 190.57 L166.95 190.53 L166.65 191.75 L166.35 192.61 L166.06 190.43 L165.76 193.42 L165.47 195.18 L165.17 192.83 L164.87 193.12 L164.58 192.81 L164.28 192.73 L163.98 191.87 L163.69 191.32 L163.39 188.86 L163.10 191.07 L162.80 193.14 L162.50 191.91 L162.21 190.05 L161.91 193.34 L161.61 188.85 L161.32 189.80 L161.02 192.63 L160.73 192.51 L160.43 191.75 L160.13 190.42 L159.84 189.87 L159.54 189.08 L159.24 190.81 L158.95 186.38 L158.65 189.67 L158.36 191.55 L158.06 189.22 L157.76 185.59 L157.47 190.03 L157.17 187.16 L156.88 186.78 L156.58 189.42 L156.28 188.95 L155.99 189.37 L155.69 188.23 L155.39 187.38 L155.10 186.97 L154.80 188.18 L154.51 187.79 L154.21 188.01 L153.91 188.37 L153.62 187.30 L153.32 189.21 L153.02 187.72 L152.73 188.10 L152.43 185.83 L152.14 186.28 L151.84 186.32 L151.54 186.35 L151.25 185.82 L150.95 184.99 L150.66 185.51 L150.36 186.20 L150.06 185.72 L149.77 184.66 L149.47 185.06 L149.17 185.85 L148.88 185.36 L148.58 184.15 L148.29 185.43 L147.99 185.34 L147.69 187.04 L147.40 186.06 L147.10 186.15 L146.80 185.57 L146.51 184.34 L146.21 185.98 L145.92 184.98 L145.62 183.23 L145.32 184.43 L145.03 184.17 L144.73 182.50 L144.43 183.02 L144.14 181.45 L143.84 183.12 L143.55 182.90 L143.25 182.81 L142.95 182.66 L142.66 182.30 L142.36 183.15 L142.07 182.31 L141.77 182.69 L141.47 181.45 L141.18 182.14 L140.88 180.51 L140.58 180.03 L140.29 181.29 L139.99 181.20 L139.70 181.99 L139.40 180.81 L139.10 181.56 L138.81 180.65 L138.51 180.57 L138.21 180.89 L137.92 181.85 L137.62 180.70 L137.33 180.21 L137.03 180.28 L136.73 179.01 L136.44 180.05 L136.14 178.58 L135.84 180.64 L135.55 178.47 L135.25 180.58 L134.96 178.79 L134.66 178.50 L134.36 178.73 L134.07 180.12 L133.77 178.54 L133.48 178.83 L133.18 178.55 L132.88 179.69 L132.59 176.81 L132.29 178.42 L131.99 177.96 L131.70 178.68 L131.40 177.07 L131.11 176.93 L130.81 176.24 L130.51 176.12 L130.22 176.69 L129.92 178.91 L129.62 177.30 L129.33 177.39 L129.03 176.39 L128.74 177.70 L128.44 176.27 L128.14 177.09 L127.85 175.24 L127.55 176.22 L127.26 177.35 L126.96 176.04 L126.66 175.17 L126.37 175.02 L126.07 175.63 L125.77 174.33 L125.48 175.54 L125.18 172.78 L124.89 174.11 L124.59 173.97 L124.29 175.04 L124.00 174.36 L123.70 174.80 L123.40 173.77 L123.11 174.38 L122.81 172.47 L122.52 172.67 L122.22 173.91 L121.92 172.22 L121.63 171.32 L121.33 172.93 L121.03 174.00 L120.74 172.62 L120.44 172.02 L120.15 173.37 L119.85 171.99 L119.55 172.89 L119.26 171.27 L118.96 170.32 L118.67 171.82 L118.37 170.26 L118.07 170.91 L117.78 171.02 L117.48 172.24 L117.18 171.04 L116.89 172.05 L116.59 170.36 L116.30 169.76 L116.00 169.06 L115.70 170.78 L115.41 170.90 L115.11 170.24 L114.81 170.42 L114.52 170.46 L114.22 169.47 L113.93 170.73 L113.63 169.63 L113.33 169.28 L113.04 168.63 L112.74 170.48 L112.45 167.01 L112.15 167.51 L111.85 166.08 L111.56 169.76 L111.26 168.83 L110.96 167.03 L110.67 166.65 L110.37 167.62 L110.08 168.05 L109.78 167.07 L109.48 167.68 L109.19 168.81 L108.89 167.52 L108.59 168.73 L108.30 167.17 L108.00 168.61 L107.71 167.00 L107.41 167.79 L107.11 167.48 L106.82 166.49 L106.52 166.43 L106.22 166.52 L105.93 164.93 L105.63 167.36 L105.34 164.81 L105.04 165.47 L104.74 164.95 L104.45 165.54 L104.15 164.36 L103.86 164.40 L103.56 163.41 L103.26 165.61 L102.97 166.16 L102.67 163.23 L102.37 164.97 L102.08 163.34 L101.78 164.68 L101.49 163.82 L101.19 163.34 L100.89 164.64 L100.60 163.09 L100.30 163.74 L100.00 164.07 L99.71 162.02 L99.41 161.51 L99.12 163.47 L98.82 161.97 L98.52 163.05 L98.23 160.74 L97.93 160.01 L97.64 161.40 L97.34 163.28 L97.04 162.41 L96.75 162.03 L96.45 161.63 L96.15 160.98 L95.86 161.66 L95.56 162.20 L95.27 161.09 L94.97 159.96 L94.67 160.49 L94.38 161.26 L94.08 160.71 L93.78 159.91 L93.49 161.22 L93.19 158.62 L92.90 160.63 L92.60 159.12 L92.30 159.58 L92.01 159.93 L91.71 159.70 L91.42 159.34 L91.12 160.24 L90.82 158.76 L90.53 159.92 L90.23 158.18 L89.93 159.53 L89.64 160.41 L89.34 159.23 L89.05 158.31 L88.75 158.85 L88.45 159.46 L88.16 157.87 L87.86 159.61 L87.56 158.33 L87.27 158.32 L86.97 157.65 L86.68 159.02 L86.38 156.33 L86.08 157.48 L85.79 156.43 L85.49 156.89 L85.19 156.00 L84.90 158.59 L84.60 157.52 L84.31 156.87 L84.01 157.16 L83.71 156.04 L83.42 155.35 L83.12 157.23 L82.83 156.20 L82.53 156.20 L82.23 154.45 L81.94 155.49 L81.64 153.84 L81.34 154.76 L81.05 153.61 L80.75 155.66 L80.46 155.17 L80.16 154.69 L79.86 156.25 L79.57 154.70 L79.27 153.05 L78.97 155.93 L78.68 151.27 L78.38 152.19 L78.09 152.93 L77.79 152.62 L77.49 152.84 L77.20 152.81 L76.90 152.17 L76.61 151.45 L76.31 152.46 L76.01 152.24 L75.72 151.38 L75.42 153.15 L75.12 152.01 L74.83 153.38 L74.53 150.16 L74.24 152.62 L73.94 152.08 L73.64 151.69 L73.35 150.77 L73.05 151.43 L72.75 150.53 L72.46 151.09 L72.16 148.71 L71.87 151.82 L71.57 149.98 L71.27 149.73 L70.98 152.05 L70.68 149.96 L70.38 148.95 L70.09 149.48 L69.79 150.24 L69.50 148.67 L69.20 149.71" fill="none" stroke="#0a0a0a" stroke-width="1.1" stroke-linejoin="round"/>
<path clip-path="url(#clipb)" d="M439.40 215.56 L440.75 216.23 L442.09 215.96 L443.44 215.93 L444.79 215.66 L446.13 214.78 L447.48 214.35 L448.82 216.73 L450.17 214.80 L451.52 214.47 L452.86 216.11 L454.21 213.42 L455.56 216.25 L456.90 216.45 L458.25 216.47 L459.60 214.79 L460.94 217.35 L462.29 216.06 L463.63 215.40 L464.98 215.63 L466.33 214.26 L467.67 216.84 L469.02 215.51 L470.37 214.41 L471.72 214.19 L473.08 214.36 L474.43 214.31 L475.78 213.01 L477.13 214.55 L478.49 215.02 L479.84 214.64 L481.19 214.32 L482.54 214.92 L483.89 213.39 L485.25 215.68 L486.60 214.76 L487.95 213.05 L489.30 215.80 L490.66 213.23 L492.01 213.32 L493.36 216.44 L494.71 214.86 L496.06 215.16 L497.42 215.75 L498.77 214.39 L500.12 216.65 L501.44 212.33 L502.77 215.72 L504.09 215.11 L505.41 215.57 L506.74 213.97 L508.06 215.19 L509.38 215.14 L510.71 215.50 L512.03 215.60 L513.35 214.41 L514.67 212.87 L516.00 212.86 L517.33 212.55 L518.66 213.43 L520.00 210.68 L521.33 213.22 L522.66 212.94 L523.99 211.75 L525.33 214.67 L526.66 213.06 L527.99 212.27 L529.33 213.93 L530.66 212.79 L531.99 213.06 L533.33 211.65 L534.67 209.86 L536.01 212.99 L537.35 211.40 L538.69 211.24 L540.03 213.22 L541.37 210.78 L542.71 211.67 L544.13 210.67 L545.55 211.74 L546.97 210.78 L548.38 211.18 L549.80 210.13 L551.22 209.04 L552.50 208.53 L553.77 208.06 L555.05 206.00 L556.33 206.34 L557.61 205.94 L558.68 203.83 L559.75 204.05 L560.81 203.48 L561.88 202.23 L562.95 202.26 L564.01 201.43 L565.07 200.40 L566.13 198.16 L567.19 197.87 L568.25 196.47 L569.31 197.20 L570.39 195.35 L571.47 192.96 L572.55 193.21 L573.63 191.87 L574.70 190.52 L575.34 189.75 L575.97 188.57 L576.60 186.94 L577.23 186.20 L577.86 185.23 L578.50 182.99 L579.13 182.66 L579.76 180.97 L580.39 179.89 L580.93 178.81 L581.47 177.54 L582.01 176.61 L582.55 175.48 L583.09 174.21 L583.81 172.93 L584.53 171.86 L585.25 170.42 L585.98 169.40 L586.70 168.69 L587.15 167.19 L587.60 165.94 L588.06 164.84 L588.51 163.44 L588.95 162.04 L589.40 160.37 L589.84 159.46 L590.28 158.04 L590.97 156.38 L591.65 155.54 L592.33 154.25 L593.01 153.06 L593.21 151.98 L593.40 150.48 L593.60 149.01 L593.80 148.25 L594.00 147.20 L594.19 145.81 L594.39 144.67 L594.59 142.85 L594.79 141.52 L594.99 140.18 L595.19 139.36 L595.39 137.15 L595.59 135.79 L595.79 134.59 L595.99 133.17 L596.19 132.03 L596.39 130.45 L596.59 129.06 L596.78 127.57 L596.97 126.89 L597.16 125.22 L597.35 123.87 L597.54 122.95 L597.73 121.38 L597.92 120.33 L598.11 118.57 L598.30 117.55 L598.49 116.28 L598.63 114.59 L598.77 113.12 L598.91 111.82 L599.04 110.66 L599.18 109.16 L599.32 107.65 L599.46 106.90 L599.60 105.26 L599.74 104.21 L599.88 102.50 L600.02 101.03 L600.16 99.16 L600.30 98.47 L600.43 96.79 L600.57 95.21 L600.71 94.26 L600.85 92.69 L600.99 91.17 L601.13 89.71 L601.27 88.45 L601.41 87.06 L601.55 85.90 L601.69 84.19 L601.82 82.84 L601.96 82.10 L602.10 80.03 L602.55 78.89 L603.00 77.61 L603.45 76.33 L603.89 76.19 L604.34 73.46 L604.79 72.65 L605.24 70.80 L605.69 69.92 L606.09 67.12 L606.49 65.78 L606.89 64.44 L607.29 63.71 L607.90 63.68 L608.52 61.90 L609.14 60.30 L609.75 59.48 L610.37 58.65 L610.99 56.23 L612.43 56.43 L613.87 56.84 L615.31 54.51 L616.17 53.27 L617.03 52.87 L617.89 52.68 L618.69 51.93 L619.49 48.62 L620.29 47.08 L621.09 46.07 L622.60 45.31 L624.11 44.12 L625.62 46.58 L627.13 46.43 L628.64 47.05 L630.15 46.73 L631.55 46.50 L632.95 46.55 L634.34 44.03 L635.74 45.40 L637.14 47.25 L638.53 47.64 L639.93 47.87 L641.33 45.38 L642.72 45.59 L644.12 45.23 L645.52 43.74 L646.91 47.17 L648.31 46.34 L649.62 46.18 L650.93 45.51 L652.24 46.45 L653.55 45.46 L654.86 44.36 L656.17 46.18 L657.48 45.12 L658.79 45.13 L660.10 43.13 L661.41 45.22 L662.72 43.31 L664.03 44.06 L665.34 43.81 L666.65 43.89 L667.96 43.03 L669.27 43.30 L670.58 44.85 L671.88 44.42 L673.19 43.26 L674.50 41.97 L675.81 43.36 L677.12 43.12 L678.43 44.03 L679.76 44.42 L681.09 45.12 L682.42 44.27 L683.75 42.70 L685.08 43.57 L686.41 43.80 L687.74 42.96 L689.07 43.68 L690.40 43.79 L691.73 42.89 L693.06 45.20 L694.39 44.82 L695.72 44.44 L697.05 42.45 L698.38 43.47 L699.70 42.42 L701.03 42.85 L702.36 43.21 L703.69 44.23 L705.02 43.75 L706.35 40.20 L707.68 43.40 L709.01 42.20 L710.34 43.17 L711.67 42.58 L713.00 43.51 L714.33 43.87 L715.66 44.80 L716.99 43.68 L718.32 42.35 L719.65 42.66 L720.98 43.31 L722.31 43.60 L723.63 43.23 L724.96 41.61 L726.29 40.76 L727.62 43.20 L728.95 42.63 L730.28 43.08 L731.61 42.36 L732.94 43.04 L734.27 42.93 L735.60 43.36" fill="none" stroke="#000" stroke-width="1.1" stroke-linejoin="round"/>
<path clip-path="url(#clipb)" d="M735.60 42.92 L734.27 43.34 L732.94 42.91 L731.61 44.14 L730.28 43.19 L728.95 43.79 L727.62 43.23 L726.29 44.16 L724.96 43.15 L723.63 42.92 L722.31 43.09 L720.98 44.12 L719.65 44.21 L718.32 45.43 L716.99 43.83 L715.66 44.04 L714.33 42.69 L713.00 44.06 L711.67 42.63 L710.34 42.19 L709.01 42.39 L707.68 41.43 L706.35 41.99 L705.02 45.20 L703.69 42.76 L702.36 43.75 L701.03 41.22 L699.70 42.48 L698.38 43.68 L697.05 43.30 L695.72 43.63 L694.39 42.10 L693.06 44.57 L691.73 41.68 L690.40 41.54 L689.07 43.14 L687.74 43.14 L686.41 43.36 L685.08 41.06 L683.75 42.75 L682.42 43.72 L681.09 42.23 L679.76 43.34 L678.43 44.37 L677.12 41.43 L675.81 42.48 L674.50 43.93 L673.19 45.52 L671.88 44.08 L670.58 45.57 L669.27 43.33 L667.96 43.07 L666.65 44.56 L665.34 43.54 L664.03 46.41 L662.72 44.91 L661.41 43.94 L660.10 44.94 L658.79 44.86 L657.48 45.39 L656.17 45.30 L654.86 43.73 L653.55 45.13 L652.24 44.23 L650.93 46.75 L649.62 44.98 L648.31 44.24 L646.91 45.15 L645.52 45.94 L644.12 43.93 L642.72 45.47 L641.33 45.91 L639.93 46.11 L638.53 47.60 L637.14 47.69 L635.74 47.16 L634.34 46.09 L632.95 44.63 L631.55 47.67 L630.15 45.32 L628.64 46.02 L627.13 47.26 L625.62 44.60 L624.11 45.75 L622.60 45.87 L621.09 47.88 L620.29 47.36 L619.49 48.69 L618.69 49.47 L617.89 50.99 L617.03 52.60 L616.17 53.41 L615.31 54.21 L613.87 55.40 L612.43 55.38 L610.99 56.29 L610.25 58.10 L609.51 58.44 L608.77 58.51 L608.03 60.56 L607.29 61.69 L605.89 63.46 L604.50 63.18 L603.11 64.78 L602.25 65.15 L601.39 66.03 L600.53 67.14 L599.67 67.71 L598.81 69.04 L597.96 70.47 L597.10 71.02 L596.45 72.45 L595.79 73.69 L595.14 75.10 L594.49 76.19 L593.84 77.73 L593.19 79.43 L592.54 80.24 L591.85 81.45 L591.16 82.58 L590.47 83.76 L589.79 84.88 L589.10 86.01 L588.70 87.63 L588.30 88.55 L587.90 89.81 L587.50 91.37 L587.10 92.85 L586.70 93.82 L585.80 95.46 L584.90 96.72 L584.00 97.94 L583.75 99.28 L583.49 100.65 L583.23 101.94 L582.97 103.30 L582.71 104.48 L582.46 106.26 L582.20 107.38 L581.86 108.17 L581.51 109.67 L581.17 111.03 L580.83 112.57 L580.48 113.87 L580.14 114.96 L579.80 116.54 L579.56 118.26 L579.31 119.06 L579.07 120.80 L578.83 122.01 L578.58 123.55 L578.36 124.93 L578.14 127.00 L577.92 127.80 L577.70 129.26 L577.51 130.44 L577.32 131.86 L577.13 134.17 L576.94 135.33 L576.75 136.22 L576.56 137.50 L576.37 139.31 L576.18 140.58 L575.99 141.88 L575.80 143.57 L575.64 144.27 L575.47 146.13 L575.31 147.51 L575.14 148.26 L574.98 149.71 L574.81 151.06 L574.65 152.29 L574.49 154.09 L574.32 155.28 L574.16 156.47 L573.99 157.40 L573.87 159.06 L573.75 160.48 L573.62 161.76 L573.50 163.49 L573.37 164.08 L573.25 165.38 L573.13 166.62 L573.00 167.95 L572.88 169.07 L572.76 170.76 L572.63 171.84 L572.51 173.89 L572.39 174.62 L572.26 177.25 L572.14 177.46 L572.01 179.44 L571.89 180.75 L571.66 180.94 L571.42 181.89 L571.19 184.16 L570.95 185.47 L570.72 185.85 L570.48 187.62 L570.25 188.59 L570.02 189.95 L569.78 190.95 L569.55 193.02 L569.31 194.67 L568.43 195.00 L567.55 195.67 L566.66 198.26 L565.78 198.54 L564.90 199.96 L564.01 201.00 L562.95 201.35 L561.88 202.71 L560.81 203.36 L559.75 203.21 L558.68 204.49 L557.61 205.46 L556.33 204.31 L555.05 207.02 L553.77 208.93 L552.50 209.55 L551.22 209.59 L549.80 211.49 L548.38 210.26 L546.97 210.67 L545.55 209.96 L544.13 212.32 L542.71 211.62 L541.37 211.00 L540.03 211.87 L538.69 213.02 L537.35 211.94 L536.01 213.17 L534.67 212.16 L533.33 211.10 L531.99 211.74 L530.66 213.58 L529.33 211.57 L527.99 214.54 L526.66 211.97 L525.33 213.83 L523.99 214.59 L522.66 213.94 L521.33 212.88 L520.00 213.07 L518.66 212.78 L517.33 215.03 L516.00 215.96 L514.67 215.85 L513.35 215.64 L512.03 215.38 L510.71 214.82 L509.38 214.23 L508.06 214.73 L506.74 214.95 L505.41 215.02 L504.09 213.38 L502.77 215.29 L501.44 215.02 L500.12 215.53 L498.77 215.04 L497.42 215.34 L496.06 215.38 L494.71 214.44 L493.36 214.83 L492.01 216.69 L490.66 215.51 L489.30 215.20 L487.95 215.67 L486.60 214.38 L485.25 214.83 L483.89 216.25 L482.54 215.51 L481.19 216.44 L479.84 215.91 L478.49 216.12 L477.13 216.20 L475.78 215.47 L474.43 214.82 L473.08 216.25 L471.72 215.36 L470.37 215.12 L469.02 215.56 L467.67 214.05 L466.33 215.47 L464.98 213.99 L463.63 214.41 L462.29 214.94 L460.94 215.02 L459.60 214.22 L458.25 215.99 L456.90 216.36 L455.56 215.22 L454.21 216.34 L452.86 214.89 L451.52 215.42 L450.17 214.74 L448.82 215.90 L447.48 216.69 L446.13 217.53 L444.79 215.59 L443.44 215.93 L442.09 215.44 L440.75 216.17 L439.40 216.04" fill="none" stroke="#000" stroke-width="1.1" stroke-linejoin="round"/>
<path d="M80.20 405.00 L85.90 408.40 L90.80 412.20 L95.70 414.00 L100.70 415.80 L105.60 418.00 L110.70 419.80 L115.40 420.70 L120.30 421.60 L125.20 422.90 L130.20 423.80 L135.10 424.80 L140.50 425.40 L145.20 426.50 L150.10 427.70 L154.80 429.80 L159.70 432.60 L164.80 435.80 L169.60 439.50 L174.50 442.50 L179.30 444.30 L184.40 447.30 L189.30 448.00 L194.30 449.70 L199.20 454.10 L204.40 453.60 L209.10 456.10 L214.00 458.00 L218.70 460.40 L223.80 462.80 L228.80 466.60 L233.60 467.00 L238.50 468.30 L243.50 469.60 L248.50 470.30 L253.50 471.50 L258.50 471.70 L263.30 471.50 L268.40 471.90 L273.40 472.70 L278.30 474.30 L283.10 472.40 L287.90 474.30 L293.00 473.00 L298.00 474.20 L302.80 476.00 L307.60 474.20 L312.60 475.20 L317.40 478.20 L322.60 475.40 L327.80 476.20 L332.60 478.60 L337.40 477.00 L342.40 477.40 L347.40 478.20 L352.40 479.00 L357.40 479.60 L362.20 480.20 L366.40 481.00" fill="none" stroke="#05a3e8" stroke-width="1.1" stroke-linejoin="round"/><path d="M78.50 403.30h3.4v3.4h-3.4zM84.20 406.70h3.4v3.4h-3.4zM89.10 410.50h3.4v3.4h-3.4zM94.00 412.30h3.4v3.4h-3.4zM99.00 414.10h3.4v3.4h-3.4zM103.90 416.30h3.4v3.4h-3.4zM109.00 418.10h3.4v3.4h-3.4zM113.70 419.00h3.4v3.4h-3.4zM118.60 419.90h3.4v3.4h-3.4zM123.50 421.20h3.4v3.4h-3.4zM128.50 422.10h3.4v3.4h-3.4zM133.40 423.10h3.4v3.4h-3.4zM138.80 423.70h3.4v3.4h-3.4zM143.50 424.80h3.4v3.4h-3.4zM148.40 426.00h3.4v3.4h-3.4zM153.10 428.10h3.4v3.4h-3.4zM158.00 430.90h3.4v3.4h-3.4zM163.10 434.10h3.4v3.4h-3.4zM167.90 437.80h3.4v3.4h-3.4zM172.80 440.80h3.4v3.4h-3.4zM177.60 442.60h3.4v3.4h-3.4zM182.70 445.60h3.4v3.4h-3.4zM187.60 446.30h3.4v3.4h-3.4zM192.60 448.00h3.4v3.4h-3.4zM197.50 452.40h3.4v3.4h-3.4zM202.70 451.90h3.4v3.4h-3.4zM207.40 454.40h3.4v3.4h-3.4zM212.30 456.30h3.4v3.4h-3.4zM217.00 458.70h3.4v3.4h-3.4zM222.10 461.10h3.4v3.4h-3.4zM227.10 464.90h3.4v3.4h-3.4zM231.90 465.30h3.4v3.4h-3.4zM236.80 466.60h3.4v3.4h-3.4zM241.80 467.90h3.4v3.4h-3.4zM246.80 468.60h3.4v3.4h-3.4zM251.80 469.80h3.4v3.4h-3.4zM256.80 470.00h3.4v3.4h-3.4zM261.60 469.80h3.4v3.4h-3.4zM266.70 470.20h3.4v3.4h-3.4zM271.70 471.00h3.4v3.4h-3.4zM276.60 472.60h3.4v3.4h-3.4zM281.40 470.70h3.4v3.4h-3.4zM286.20 472.60h3.4v3.4h-3.4zM291.30 471.30h3.4v3.4h-3.4zM296.30 472.50h3.4v3.4h-3.4zM301.10 474.30h3.4v3.4h-3.4zM305.90 472.50h3.4v3.4h-3.4zM310.90 473.50h3.4v3.4h-3.4zM315.70 476.50h3.4v3.4h-3.4zM320.90 473.70h3.4v3.4h-3.4zM326.10 474.50h3.4v3.4h-3.4zM330.90 476.90h3.4v3.4h-3.4zM335.70 475.30h3.4v3.4h-3.4zM340.70 475.70h3.4v3.4h-3.4zM345.70 476.50h3.4v3.4h-3.4zM350.70 477.30h3.4v3.4h-3.4zM355.70 477.90h3.4v3.4h-3.4zM360.50 478.50h3.4v3.4h-3.4zM364.70 479.30h3.4v3.4h-3.4z" fill="#05a3e8"/>
<path d="M80.00 303.20 L86.30 314.30 L90.80 330.60 L95.70 344.70 L100.70 358.80 L105.50 369.20 L110.50 375.60 L115.20 381.10 L122.20 387.30 L125.20 388.50 L130.40 392.20 L135.20 395.30 L140.50 398.30 L145.00 401.40 L149.90 406.30 L154.70 410.70 L164.80 424.30 L169.60 431.50 L174.60 438.20 L179.20 439.90 L184.10 441.70 L189.40 447.30 L194.30 445.20 L199.30 448.00 L204.50 454.20 L209.10 453.20 L214.10 455.50 L223.80 461.50 L228.60 463.80 L233.50 465.60 L238.50 466.80 L243.50 468.30 L248.50 468.90 L253.50 470.10 L258.50 470.30 L263.40 470.30 L268.40 470.40 L273.40 471.00 L278.40 473.00 L283.10 470.30 L287.90 472.20 L293.00 475.40 L298.00 472.60 L302.80 472.40 L307.60 476.60 L312.60 473.60 L317.40 474.20 L322.60 476.20 L327.80 474.40 L332.60 475.00 L337.40 475.40 L342.40 475.40 L347.40 475.40 L352.40 476.60 L357.40 477.20 L362.20 477.80 L366.40 478.40" fill="none" stroke="#8c0ae1" stroke-width="1.1" stroke-linejoin="round"/><path d="M78.30 301.50h3.4v3.4h-3.4zM84.60 312.60h3.4v3.4h-3.4zM89.10 328.90h3.4v3.4h-3.4zM94.00 343.00h3.4v3.4h-3.4zM99.00 357.10h3.4v3.4h-3.4zM103.80 367.50h3.4v3.4h-3.4zM108.80 373.90h3.4v3.4h-3.4zM113.50 379.40h3.4v3.4h-3.4zM120.50 385.60h3.4v3.4h-3.4zM123.50 386.80h3.4v3.4h-3.4zM128.70 390.50h3.4v3.4h-3.4zM133.50 393.60h3.4v3.4h-3.4zM138.80 396.60h3.4v3.4h-3.4zM143.30 399.70h3.4v3.4h-3.4zM148.20 404.60h3.4v3.4h-3.4zM153.00 409.00h3.4v3.4h-3.4zM163.10 422.60h3.4v3.4h-3.4zM167.90 429.80h3.4v3.4h-3.4zM172.90 436.50h3.4v3.4h-3.4zM177.50 438.20h3.4v3.4h-3.4zM182.40 440.00h3.4v3.4h-3.4zM187.70 445.60h3.4v3.4h-3.4zM192.60 443.50h3.4v3.4h-3.4zM197.60 446.30h3.4v3.4h-3.4zM202.80 452.50h3.4v3.4h-3.4zM207.40 451.50h3.4v3.4h-3.4zM212.40 453.80h3.4v3.4h-3.4zM222.10 459.80h3.4v3.4h-3.4zM226.90 462.10h3.4v3.4h-3.4zM231.80 463.90h3.4v3.4h-3.4zM236.80 465.10h3.4v3.4h-3.4zM241.80 466.60h3.4v3.4h-3.4zM246.80 467.20h3.4v3.4h-3.4zM251.80 468.40h3.4v3.4h-3.4zM256.80 468.60h3.4v3.4h-3.4zM261.70 468.60h3.4v3.4h-3.4zM266.70 468.70h3.4v3.4h-3.4zM271.70 469.30h3.4v3.4h-3.4zM276.70 471.30h3.4v3.4h-3.4zM281.40 468.60h3.4v3.4h-3.4zM286.20 470.50h3.4v3.4h-3.4zM291.30 473.70h3.4v3.4h-3.4zM296.30 470.90h3.4v3.4h-3.4zM301.10 470.70h3.4v3.4h-3.4zM305.90 474.90h3.4v3.4h-3.4zM310.90 471.90h3.4v3.4h-3.4zM315.70 472.50h3.4v3.4h-3.4zM320.90 474.50h3.4v3.4h-3.4zM326.10 472.70h3.4v3.4h-3.4zM330.90 473.30h3.4v3.4h-3.4zM335.70 473.70h3.4v3.4h-3.4zM340.70 473.70h3.4v3.4h-3.4zM345.70 473.70h3.4v3.4h-3.4zM350.70 474.90h3.4v3.4h-3.4zM355.70 475.50h3.4v3.4h-3.4zM360.50 476.10h3.4v3.4h-3.4zM364.70 476.70h3.4v3.4h-3.4z" fill="#8c0ae1"/>
<path d="M448.30 396.30 L453.40 395.90 L458.40 393.60 L462.80 394.60 L467.60 397.90 L472.40 396.20 L477.20 393.00 L482.00 397.40 L487.20 395.40 L492.40 393.80 L497.40 395.50 L502.20 397.40 L507.00 398.60 L511.80 395.40 L516.60 395.00 L521.40 400.20 L527.00 401.60 L531.70 402.20 L536.80 405.00 L541.50 403.20 L546.60 407.20 L561.50 407.00 L566.40 408.80 L571.20 379.80 L576.20 383.60 L581.30 387.40 L586.10 387.00 L591.30 383.10 L596.00 390.20 L600.80 390.20 L606.00 393.90 L610.70 394.40 L615.50 392.80 L620.40 391.60 L625.30 392.40 L630.30 393.20 L635.30 392.40 L640.50 387.60 L645.40 387.60 L650.60 388.80 L655.50 387.60 L660.40 388.10 L664.80 387.10 L669.60 387.90 L674.90 384.90 L676.20 385.10 L684.70 383.70 L689.90 383.30 L694.70 385.30 L699.50 384.40 L704.60 383.30 L709.30 385.30 L714.20 386.50 L718.70 384.40 L723.80 385.30 L729.10 386.00 L735.20 384.40" fill="none" stroke="#05a3e8" stroke-width="1.1" stroke-linejoin="round"/><path d="M446.60 394.60h3.4v3.4h-3.4zM451.70 394.20h3.4v3.4h-3.4zM456.70 391.90h3.4v3.4h-3.4zM461.10 392.90h3.4v3.4h-3.4zM465.90 396.20h3.4v3.4h-3.4zM470.70 394.50h3.4v3.4h-3.4zM475.50 391.30h3.4v3.4h-3.4zM480.30 395.70h3.4v3.4h-3.4zM485.50 393.70h3.4v3.4h-3.4zM490.70 392.10h3.4v3.4h-3.4zM495.70 393.80h3.4v3.4h-3.4zM500.50 395.70h3.4v3.4h-3.4zM505.30 396.90h3.4v3.4h-3.4zM510.10 393.70h3.4v3.4h-3.4zM514.90 393.30h3.4v3.4h-3.4zM519.70 398.50h3.4v3.4h-3.4zM525.30 399.90h3.4v3.4h-3.4zM530.00 400.50h3.4v3.4h-3.4zM535.10 403.30h3.4v3.4h-3.4zM539.80 401.50h3.4v3.4h-3.4zM544.90 405.50h3.4v3.4h-3.4zM559.80 405.30h3.4v3.4h-3.4zM564.70 407.10h3.4v3.4h-3.4zM569.50 378.10h3.4v3.4h-3.4zM574.50 381.90h3.4v3.4h-3.4zM579.60 385.70h3.4v3.4h-3.4zM584.40 385.30h3.4v3.4h-3.4zM589.60 381.40h3.4v3.4h-3.4zM594.30 388.50h3.4v3.4h-3.4zM599.10 388.50h3.4v3.4h-3.4zM604.30 392.20h3.4v3.4h-3.4zM609.00 392.70h3.4v3.4h-3.4zM613.80 391.10h3.4v3.4h-3.4zM618.70 389.90h3.4v3.4h-3.4zM623.60 390.70h3.4v3.4h-3.4zM628.60 391.50h3.4v3.4h-3.4zM633.60 390.70h3.4v3.4h-3.4zM638.80 385.90h3.4v3.4h-3.4zM643.70 385.90h3.4v3.4h-3.4zM648.90 387.10h3.4v3.4h-3.4zM653.80 385.90h3.4v3.4h-3.4zM658.70 386.40h3.4v3.4h-3.4zM663.10 385.40h3.4v3.4h-3.4zM667.90 386.20h3.4v3.4h-3.4zM673.20 383.20h3.4v3.4h-3.4zM674.50 383.40h3.4v3.4h-3.4zM683.00 382.00h3.4v3.4h-3.4zM688.20 381.60h3.4v3.4h-3.4zM693.00 383.60h3.4v3.4h-3.4zM697.80 382.70h3.4v3.4h-3.4zM702.90 381.60h3.4v3.4h-3.4zM707.60 383.60h3.4v3.4h-3.4zM712.50 384.80h3.4v3.4h-3.4zM717.00 382.70h3.4v3.4h-3.4zM722.10 383.60h3.4v3.4h-3.4zM727.40 384.30h3.4v3.4h-3.4zM733.50 382.70h3.4v3.4h-3.4z" fill="#05a3e8"/>
<path d="M448.60 395.40 L454.20 395.40 L459.00 399.00 L464.00 393.70 L468.90 397.10 L474.20 394.80 L479.20 395.40 L483.80 397.20 L488.40 393.60 L493.60 397.40 L498.60 394.80 L503.60 396.60 L508.60 396.60 L513.60 398.60 L521.40 398.80 L523.40 399.80 L528.40 407.20 L533.30 404.30 L538.20 408.30 L543.40 416.20 L548.20 410.00 L553.00 411.40 L557.80 422.80 L562.80 414.20 L567.40 414.40 L572.40 422.60 L577.40 419.00 L587.60 430.20 L592.40 431.60 L597.40 435.20 L604.80 439.20 L607.20 438.60 L612.40 442.60 L617.20 444.00 L621.80 441.40 L626.80 441.60 L632.20 445.20 L637.10 441.30 L642.00 443.20 L646.80 450.80 L651.80 443.20 L656.40 444.20 L661.40 452.20 L666.60 442.20 L671.40 446.00 L676.20 453.00 L681.20 444.40 L686.20 443.70 L691.50 447.00 L696.20 448.50 L701.30 446.30 L706.10 447.60 L710.80 443.30 L716.20 448.50 L725.30 448.70 L730.50 451.10 L734.90 451.10" fill="none" stroke="#8c0ae1" stroke-width="1.1" stroke-linejoin="round"/><path d="M446.90 393.70h3.4v3.4h-3.4zM452.50 393.70h3.4v3.4h-3.4zM457.30 397.30h3.4v3.4h-3.4zM462.30 392.00h3.4v3.4h-3.4zM467.20 395.40h3.4v3.4h-3.4zM472.50 393.10h3.4v3.4h-3.4zM477.50 393.70h3.4v3.4h-3.4zM482.10 395.50h3.4v3.4h-3.4zM486.70 391.90h3.4v3.4h-3.4zM491.90 395.70h3.4v3.4h-3.4zM496.90 393.10h3.4v3.4h-3.4zM501.90 394.90h3.4v3.4h-3.4zM506.90 394.90h3.4v3.4h-3.4zM511.90 396.90h3.4v3.4h-3.4zM519.70 397.10h3.4v3.4h-3.4zM521.70 398.10h3.4v3.4h-3.4zM526.70 405.50h3.4v3.4h-3.4zM531.60 402.60h3.4v3.4h-3.4zM536.50 406.60h3.4v3.4h-3.4zM541.70 414.50h3.4v3.4h-3.4zM546.50 408.30h3.4v3.4h-3.4zM551.30 409.70h3.4v3.4h-3.4zM556.10 421.10h3.4v3.4h-3.4zM561.10 412.50h3.4v3.4h-3.4zM565.70 412.70h3.4v3.4h-3.4zM570.70 420.90h3.4v3.4h-3.4zM575.70 417.30h3.4v3.4h-3.4zM585.90 428.50h3.4v3.4h-3.4zM590.70 429.90h3.4v3.4h-3.4zM595.70 433.50h3.4v3.4h-3.4zM603.10 437.50h3.4v3.4h-3.4zM605.50 436.90h3.4v3.4h-3.4zM610.70 440.90h3.4v3.4h-3.4zM615.50 442.30h3.4v3.4h-3.4zM620.10 439.70h3.4v3.4h-3.4zM625.10 439.90h3.4v3.4h-3.4zM630.50 443.50h3.4v3.4h-3.4zM635.40 439.60h3.4v3.4h-3.4zM640.30 441.50h3.4v3.4h-3.4zM645.10 449.10h3.4v3.4h-3.4zM650.10 441.50h3.4v3.4h-3.4zM654.70 442.50h3.4v3.4h-3.4zM659.70 450.50h3.4v3.4h-3.4zM664.90 440.50h3.4v3.4h-3.4zM669.70 444.30h3.4v3.4h-3.4zM674.50 451.30h3.4v3.4h-3.4zM679.50 442.70h3.4v3.4h-3.4zM684.50 442.00h3.4v3.4h-3.4zM689.80 445.30h3.4v3.4h-3.4zM694.50 446.80h3.4v3.4h-3.4zM699.60 444.60h3.4v3.4h-3.4zM704.40 445.90h3.4v3.4h-3.4zM709.10 441.60h3.4v3.4h-3.4zM714.50 446.80h3.4v3.4h-3.4zM723.60 447.00h3.4v3.4h-3.4zM728.80 449.40h3.4v3.4h-3.4zM733.20 449.40h3.4v3.4h-3.4z" fill="#8c0ae1"/>
<text x="91.8" y="321.2">FC</text>
<text x="82.2" y="434.7">ZFC</text>
<text x="168.0" y="410.9" font-size="15.8">T<tspan font-size="9.8" dy="0.9">V</tspan></text>
<path d="M176.8 414V428.4M170.1 424.3L176.8 428.4L183.5 424.3" fill="none" stroke="#222" stroke-width="1.2"/>
<path d="M673.8 373.9H650.4M654.5 367.3L650.4 373.9L654.5 380.3" fill="none" stroke="#333" stroke-width="1.3"/>
<path d="M650.1 429.8L673.7 430.8M669.7 424.3L673.7 430.8L669.3 437.3" fill="none" stroke="#222" stroke-width="1.3"/>
</svg></body></html>
